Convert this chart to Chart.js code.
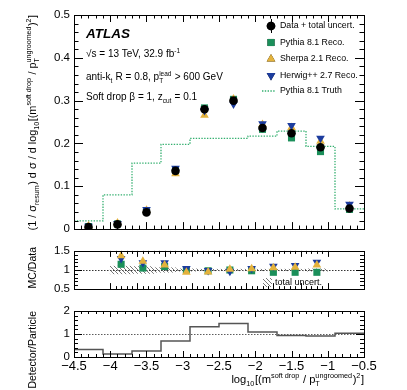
<!DOCTYPE html>
<html>
<head>
<meta charset="utf-8">
<script src="https://cdn.jsdelivr.net/npm/chart.js@4.4.1/dist/chart.umd.min.js"></script>
<style>
  body { margin: 0; background: #fff; width: 407px; height: 390px; position: relative; overflow: hidden; }
  canvas { position: absolute; left: 0; }
</style>
</head>
<body>
<canvas id="main" width="407" height="240" style="top:0"></canvas>
<canvas id="ratio" width="407" height="60" style="top:240px"></canvas>
<canvas id="detpart" width="407" height="90" style="top:300px"></canvas>
<script>
// bins in log10[(m/pT)^2]
const binEdges = [-4.5, -4.1, -3.7, -3.3, -2.9, -2.5, -2.1, -1.7, -1.3, -0.9, -0.5];
const binCenters = [-4.3, -3.9, -3.5, -3.1, -2.7, -2.3, -1.9, -1.5, -1.1, -0.7];

// main panel
const dataVals = [0.005, 0.011, 0.039, 0.136, 0.280, 0.300, 0.236, 0.224, 0.191, 0.048];
const dataErr = [0.002, 0.002, 0.003, 0.005, 0.008, 0.008, 0.006, 0.006, 0.006, 0.003];
const pythiaReco = [0.006, 0.012, 0.043, 0.137, 0.283, 0.303, 0.233, 0.213, 0.181, 0.046];
const sherpaReco = [0.007, 0.014, 0.044, 0.129, 0.266, 0.304, 0.244, 0.237, 0.205, 0.054];
const herwigReco = [0.0065, 0.013, 0.046, 0.142, 0.277, 0.292, 0.246, 0.242, 0.212, 0.058];
const pythiaTruth = [0.019, 0.080, 0.154, 0.198, 0.212, 0.212, 0.217, 0.229, 0.193, 0.047];

// MC / Data panel
const ratioPythia = [1.15, 1.05, 1.09, 1.00, 0.98, 1.00, 0.98, 0.94, 0.94, 0.94];
const ratioSherpa = [1.37, 1.23, 1.13, 0.94, 0.95, 1.02, 1.03, 1.06, 1.07, 1.13];
const ratioHerwig = [1.30, 1.19, 1.19, 1.04, 0.99, 0.97, 1.04, 1.10, 1.12, 1.20];
const totalUncert = [0.10, 0.09, 0.06, 0.03, 0.02, 0.02, 0.02, 0.02, 0.02, 0.03];

// Detector / Particle panel
const detOverPart = [0.33, 0.13, 0.26, 0.70, 1.32, 1.46, 1.09, 0.94, 0.91, 1.03];

const GREEN = '#1b8f5a', YELLOW = '#e3b23c', BLUE = '#1c3c9e', TRUTH = '#35b070';
const FONT = '"Liberation Sans", Arial, sans-serif';

function pts(xs, ys) { return xs.map((x, i) => ({ x: x, y: ys[i] })); }
function stepPts(edges, vals) {
  const out = vals.map((v, i) => ({ x: edges[i], y: v }));
  out.push({ x: edges[edges.length - 1], y: vals[vals.length - 1] });
  return out;
}

// text with sub/superscripts: parts are strings or {sub, sup}
function richLayout(ctx, parts, size) {
  const small = size * 0.65;
  let w = 0;
  const items = parts.map(p => {
    if (typeof p === 'string') {
      ctx.font = size + 'px ' + FONT;
      const it = { p: p, x: w }; w += ctx.measureText(p).width; return it;
    }
    ctx.font = small + 'px ' + FONT;
    const ws = p.sub ? ctx.measureText(p.sub).width : 0;
    const wp = p.sup ? ctx.measureText(p.sup).width : 0;
    const it = { p: p, x: w }; w += Math.max(ws, wp) + 0.5; return it;
  });
  return { items: items, width: w, small: small };
}
function drawRich(ctx, parts, x, y, size, align) {
  const L = richLayout(ctx, parts, size);
  const x0 = align === 'right' ? x - L.width : x;
  ctx.textBaseline = 'alphabetic';
  ctx.textAlign = 'left';
  L.items.forEach(it => {
    if (typeof it.p === 'string') {
      ctx.font = size + 'px ' + FONT;
      ctx.fillText(it.p, x0 + it.x, y);
    } else {
      ctx.font = L.small + 'px ' + FONT;
      if (it.p.sub) ctx.fillText(it.p.sub, x0 + it.x, y + size * 0.3);
      if (it.p.sup) ctx.fillText(it.p.sup, x0 + it.x, y - size * 0.45);
    }
  });
}
function drawRichVertical(ctx, parts, xBase, yTop, size) {
  ctx.save();
  ctx.translate(xBase, yTop);
  ctx.rotate(-Math.PI / 2);
  drawRich(ctx, parts, 0, 0, size, 'right');
  ctx.restore();
}

// ROOT-like frame with inward ticks on all four sides
function framePlugin(o) {
  return {
    id: 'frame',
    afterDatasetsDraw(chart) {
      const ctx = chart.ctx, a = chart.chartArea, sx = chart.scales.x, sy = chart.scales.y;
      ctx.save();
      ctx.strokeStyle = '#000';
      ctx.lineWidth = 1;
      ctx.beginPath();
      for (let v = sx.min; v <= sx.max + 1e-9; v += 0.1) {
        const major = Math.abs(Math.round(v * 2) - v * 2) < 1e-6;
        const px = Math.round(sx.getPixelForValue(v)) + 0.5, len = major ? o.xMaj : o.xMin;
        ctx.moveTo(px, a.bottom); ctx.lineTo(px, a.bottom - len);
        ctx.moveTo(px, a.top); ctx.lineTo(px, a.top + len);
      }
      for (let k = 0; k <= Math.round((sy.max - sy.min) / o.yStep); k++) {
        const v = sy.min + k * o.yStep;
        const major = k % o.yEvery === 0;
        const py = Math.round(sy.getPixelForValue(v)) + 0.5, len = major ? o.yMaj : o.yMin;
        ctx.moveTo(a.left, py); ctx.lineTo(a.left + len, py);
        ctx.moveTo(a.right, py); ctx.lineTo(a.right - len, py);
      }
      ctx.stroke();
      ctx.strokeRect(Math.round(a.left) + 0.5, Math.round(a.top) + 0.5,
        Math.round(a.right - a.left), Math.round(a.bottom - a.top));
      ctx.restore();
      if (o.extra) o.extra(chart);
    }
  };
}

function yTicks(min, max, step) {
  return {
    min: min, max: max,
    ticks: { stepSize: step, padding: 4, color: '#000', font: { family: FONT, size: 11.5 },
      callback: v => String(Math.round(v * 100) / 100) },
    grid: { display: false, drawTicks: false }, border: { display: false },
    afterFit: s => { s.width = 74; }
  };
}
function xHidden(h) {
  return {
    type: 'linear', min: -4.5, max: -0.5,
    ticks: { display: false }, grid: { display: false, drawTicks: false }, border: { display: false },
    afterFit: s => { s.height = h; }
  };
}
const baseOpts = {
  responsive: false, animation: false,
  plugins: { legend: { display: false }, tooltip: { enabled: false } }
};

function refLine(chart, value, color) {
  const ctx = chart.ctx, a = chart.chartArea, y = Math.round(chart.scales.y.getPixelForValue(value)) + 0.5;
  ctx.save();
  ctx.strokeStyle = color; ctx.lineWidth = 0.8; ctx.setLineDash([1.5, 1.5]);
  ctx.beginPath(); ctx.moveTo(a.left, y); ctx.lineTo(a.right, y); ctx.stroke();
  ctx.restore();
}

// ---------- main panel ----------
new Chart(document.getElementById('main'), {
  type: 'scatter',
  data: {
    datasets: [
      { label: 'Data + total uncert.', data: pts(binCenters, dataVals), pointStyle: 'circle', pointRadius: 4.3,
        backgroundColor: '#000', borderColor: '#000', borderWidth: 0, order: 0 },
      { label: 'Herwig++ 2.7 Reco.', data: pts(binCenters, herwigReco), pointStyle: 'triangle', rotation: 180,
        pointRadius: 5, backgroundColor: BLUE, borderColor: BLUE, borderWidth: 0, order: 1 },
      { label: 'Sherpa 2.1 Reco.', data: pts(binCenters, sherpaReco), pointStyle: 'triangle', pointRadius: 5,
        backgroundColor: YELLOW, borderColor: YELLOW, borderWidth: 0, order: 2 },
      { label: 'Pythia 8.1 Reco.', data: pts(binCenters, pythiaReco), pointStyle: 'rect', pointRadius: 5,
        backgroundColor: GREEN, borderColor: GREEN, borderWidth: 0, order: 3 },
      { label: 'Pythia 8.1 Truth', data: stepPts(binEdges, pythiaTruth), showLine: true, stepped: 'before',
        borderColor: TRUTH, borderWidth: 1.3, borderDash: [1.4, 1.4], pointRadius: 0, fill: false, order: 4 }
    ]
  },
  options: Object.assign({}, baseOpts, {
    layout: { padding: { top: 15, right: 43, left: 0, bottom: 0 } },
    scales: { x: xHidden(5), y: yTicks(0, 0.5, 0.1) }
  }),
  plugins: [framePlugin({
    xMaj: 7, xMin: 3.5, yStep: 0.02, yEvery: 5, yMaj: 9, yMin: 4.5,
    extra: chart => {
      const ctx = chart.ctx, sx = chart.scales.x, sy = chart.scales.y;
      ctx.save();
      // data error bars
      ctx.strokeStyle = '#000'; ctx.lineWidth = 1;
      ctx.beginPath();
      binCenters.forEach((c, i) => {
        const px = Math.round(sx.getPixelForValue(c)) + 0.5;
        ctx.moveTo(px, sy.getPixelForValue(dataVals[i] - dataErr[i]));
        ctx.lineTo(px, sy.getPixelForValue(dataVals[i] + dataErr[i]));
      });
      ctx.stroke();
      // labels
      ctx.fillStyle = '#000';
      ctx.font = 'italic bold 13.5px ' + FONT;
      ctx.fillText('ATLAS', 86, 38);
      drawRich(ctx, ['\u221As = 13 TeV, 32.9 fb', { sup: '-1' }], 86, 57, 10);
      drawRich(ctx, ['anti-k', { sub: 't' }, ' R = 0.8, p', { sub: 'T', sup: 'lead' }, ' > 600 GeV'], 86, 80, 10);
      drawRich(ctx, ['Soft drop \u03B2 = 1, z', { sub: 'cut' }, ' = 0.1'], 86, 100, 10);
      // legend
      const ds = chart.data.datasets;
      const rows = [
        { d: ds[0], y: 26 }, { d: ds[3], y: 42.5 }, { d: ds[2], y: 59 }, { d: ds[1], y: 75.5 }, { d: ds[4], y: 91 }
      ];
      ctx.font = '8.8px ' + FONT;
      ctx.textBaseline = 'middle';
      rows.forEach(r => {
        const d = r.d, mx = 271;
        if (d.showLine) {
          ctx.save();
          ctx.strokeStyle = d.borderColor; ctx.lineWidth = 1.3; ctx.setLineDash([1.4, 1.4]);
          ctx.beginPath(); ctx.moveTo(262, r.y); ctx.lineTo(276, r.y); ctx.stroke();
          ctx.restore();
        } else {
          Chart.helpers.drawPoint(ctx, {
            pointStyle: d.pointStyle, rotation: d.rotation || 0, radius: d.pointRadius, borderWidth: 0
          }, mx, r.y);
          ctx.fillStyle = d.backgroundColor;
          ctx.fill();
          if (d.pointStyle === 'circle') {
            ctx.strokeStyle = '#000'; ctx.beginPath(); ctx.moveTo(mx + 0.5, r.y - 7); ctx.lineTo(mx + 0.5, r.y + 7); ctx.stroke();
          }
        }
        ctx.fillStyle = '#000';
        ctx.fillText(d.label, 280, r.y);
      });
      // y title
      drawRichVertical(ctx, ['(1 / \u03C3', { sub: 'resum' }, ') d \u03C3 / d log', { sub: '10' },
        '[(m', { sup: 'soft drop' }, ' / p', { sub: 'T', sup: 'ungroomed' }, ')', { sup: '2' }, ']'], 36, 15, 10.9);
      ctx.restore();
    }
  })]
});

// ---------- MC / Data panel ----------
function hatchPattern() {
  const c = document.createElement('canvas');
  c.width = 4; c.height = 4;
  const g = c.getContext('2d');
  g.strokeStyle = '#555'; g.lineWidth = 0.8;
  g.beginPath();
  g.moveTo(0, 0); g.lineTo(4, 4);
  g.moveTo(-1, 3); g.lineTo(1, 5);
  g.moveTo(3, -1); g.lineTo(5, 1);
  g.stroke();
  return document.getElementById('ratio').getContext('2d').createPattern(c, 'repeat');
}
const hatch = hatchPattern();

new Chart(document.getElementById('ratio'), {
  type: 'scatter',
  data: {
    datasets: [
      { label: 'Sherpa 2.1 Reco.', data: pts(binCenters, ratioSherpa), pointStyle: 'triangle', pointRadius: 5,
        backgroundColor: YELLOW, borderColor: YELLOW, borderWidth: 0, order: 0 },
      { label: 'Herwig++ 2.7 Reco.', data: pts(binCenters, ratioHerwig), pointStyle: 'triangle', rotation: 180,
        pointRadius: 5, backgroundColor: BLUE, borderColor: BLUE, borderWidth: 0, order: 1 },
      { label: 'Pythia 8.1 Reco.', data: pts(binCenters, ratioPythia), pointStyle: 'rect', pointRadius: 5,
        backgroundColor: GREEN, borderColor: GREEN, borderWidth: 0, order: 2 },
      { type: 'bar', label: 'total uncert.', data: binCenters.map((c, i) => ({ x: c, y: [1 - totalUncert[i], 1 + totalUncert[i]] })),
        backgroundColor: hatch, borderWidth: 0, barPercentage: 1, categoryPercentage: 1, grouped: false, order: 5 }
    ]
  },
  options: Object.assign({}, baseOpts, {
    layout: { padding: { top: 7, right: 43, left: 0, bottom: 0 } },
    scales: { x: xHidden(6), y: yTicks(0.5, 1.5, 0.5) }
  }),
  plugins: [{
    id: 'ref1', beforeDatasetsDraw: chart => refLine(chart, 1, '#000')
  }, framePlugin({
    xMaj: 6, xMin: 3, yStep: 0.1, yEvery: 5, yMaj: 8, yMin: 4,
    extra: chart => {
      const ctx = chart.ctx;
      ctx.save();
      ctx.fillStyle = hatch;
      ctx.fillRect(263, 38, 9, 9);
      ctx.fillStyle = '#000';
      ctx.font = '9px ' + FONT;
      ctx.textBaseline = 'middle';
      ctx.fillText('total uncert.', 275, 43);
      drawRichVertical(ctx, ['MC/Data'], 36, 7, 10.5);
      ctx.restore();
    }
  })]
});

// ---------- Detector / Particle panel ----------
new Chart(document.getElementById('detpart'), {
  type: 'scatter',
  data: {
    datasets: [
      { label: 'Detector/Particle', data: stepPts(binEdges, detOverPart), showLine: true, stepped: 'before',
        borderColor: '#555', borderWidth: 1.5, pointRadius: 0, fill: false }
    ]
  },
  options: Object.assign({}, baseOpts, {
    layout: { padding: { top: 11, right: 43, left: 0, bottom: 0 } },
    scales: {
      x: {
        type: 'linear', min: -4.5, max: -0.5,
        ticks: { stepSize: 0.5, autoSkip: false, maxRotation: 0, padding: 2, color: '#000',
          font: { family: FONT, size: 13 }, callback: v => String(v).replace('-', '\u2212') },
        grid: { display: false, drawTicks: false }, border: { display: false },
        afterFit: s => { s.height = 33; }
      },
      y: yTicks(0, 2, 1)
    }
  }),
  plugins: [{
    id: 'ref1', beforeDatasetsDraw: chart => refLine(chart, 1, '#333')
  }, framePlugin({
    xMaj: 6, xMin: 3, yStep: 0.2, yEvery: 5, yMaj: 8, yMin: 4,
    extra: chart => {
      const ctx = chart.ctx;
      ctx.save();
      ctx.fillStyle = '#000';
      drawRich(ctx, ['log', { sub: '10' }, '[(m', { sup: 'soft drop' }, ' / p', { sub: 'T', sup: 'ungroomed' },
        ')', { sup: '2' }, ']'], 364, 83, 11.2, 'right');
      drawRichVertical(ctx, ['Detector/Particle'], 36, 11, 10.5);
      ctx.restore();
    }
  })]
});
</script>
</body>
</html>
